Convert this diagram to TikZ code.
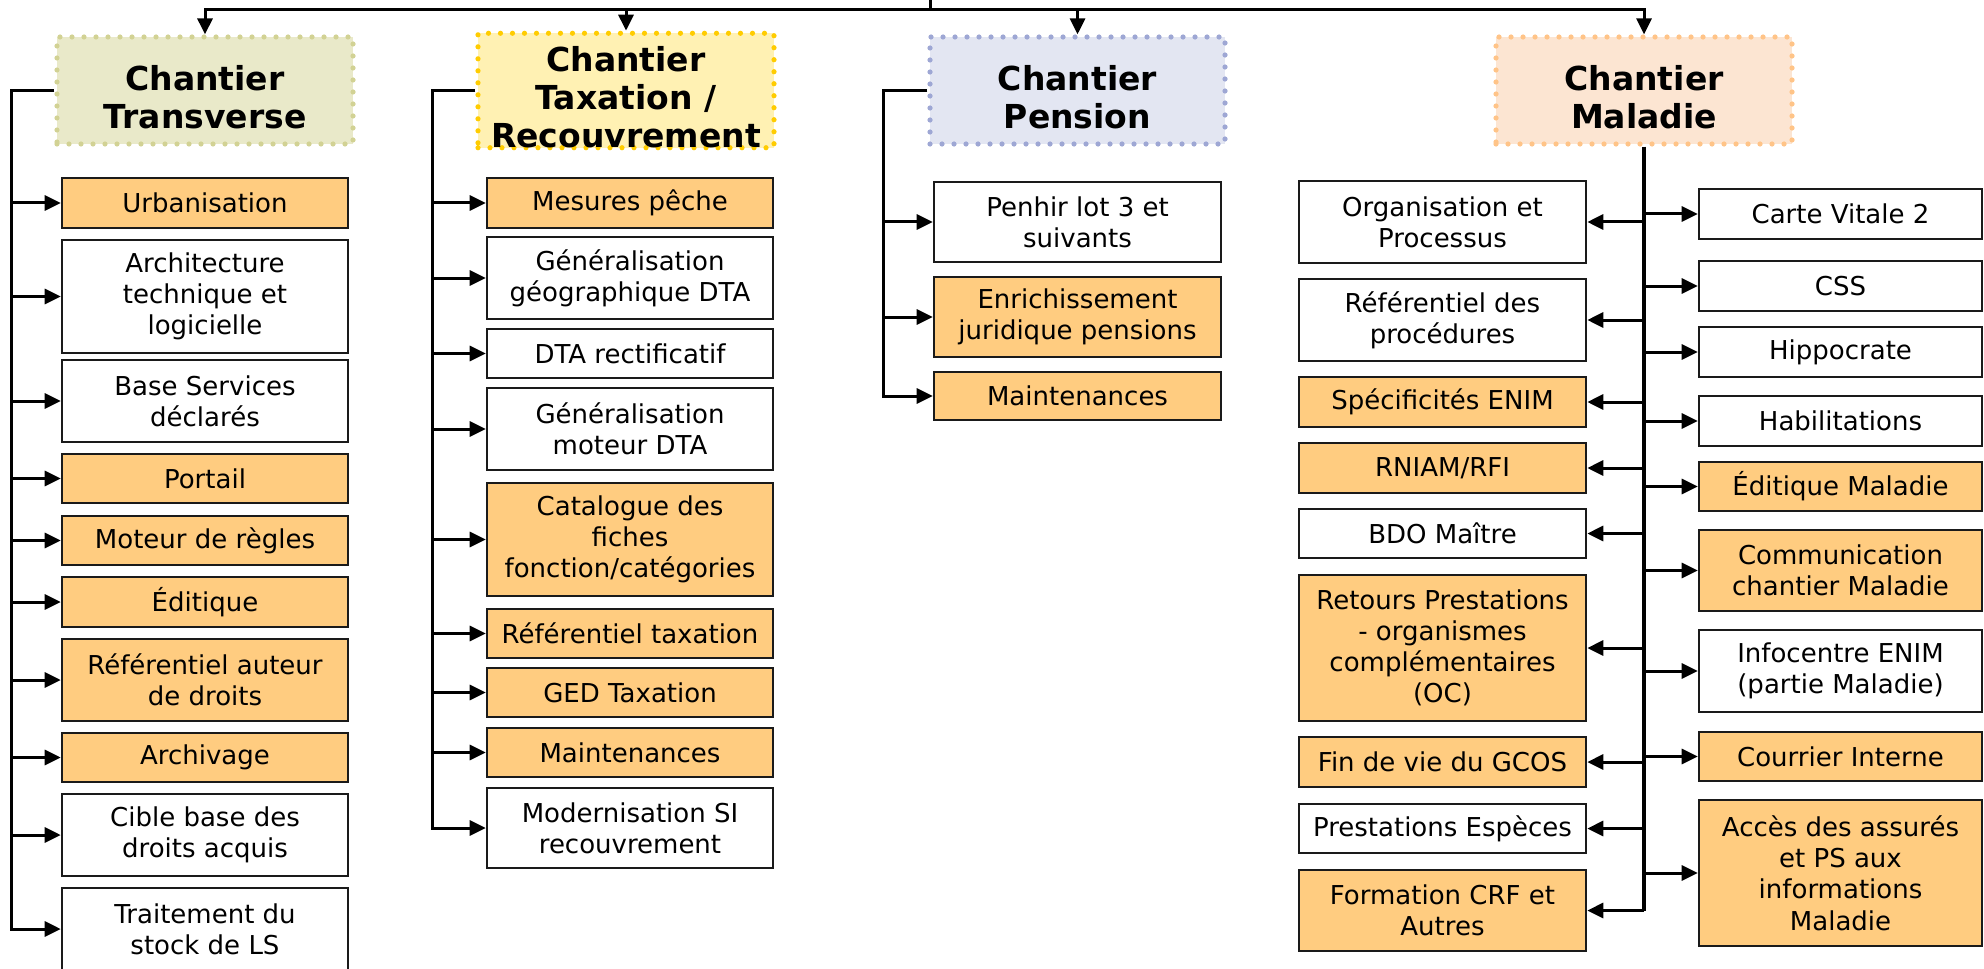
\documentclass[tikz,border=0pt]{standalone}
\usepackage{fontspec}
\setmainfont{DejaVu Sans}
\usetikzlibrary{arrows.meta}
\definecolor{orng}{HTML}{FFCC80}
\definecolor{trfill}{HTML}{E9E9C9}
\definecolor{trdot}{HTML}{D2D294}
\definecolor{txfill}{HTML}{FFF1B3}
\definecolor{txdot}{HTML}{FFCC00}
\definecolor{pefill}{HTML}{E3E6F2}
\definecolor{pedot}{HTML}{9EA7D4}
\definecolor{mafill}{HTML}{FCE5D2}
\definecolor{madot}{HTML}{FFC488}
\definecolor{bord}{HTML}{1A1A1A}
\newcommand{\hdrfont}{\fontsize{16.5pt}{19pt}\selectfont\bfseries}
\newcommand{\boxfont}{\fontsize{13pt}{15.6pt}\selectfont}
\newcommand{\bx}[7]{\node[box,fill=#6,minimum width={(#4-#2)*0.5pt},minimum height={(#5-#3)*0.5pt}] (#1) at ({(#2+#4)/2},{(#3+#5)/2}) {#7};}
\newcommand{\hd}[6]{\node[hdr,fill=#4,draw=#5,minimum width={(#3-#2)*0.5pt},minimum height={(144-37)*0.5pt}] (#1) at ({(#2+#3)/2},90.5) {\rule{0pt}{19pt}#6};}
\begin{document}
\begin{tikzpicture}[x=0.5pt,y=-0.5pt,
  box/.style={draw=bord,line width=1.3pt,inner sep=0pt,align=center,font=\boxfont},
  hdr/.style={line width=2.6pt,dash pattern=on 0pt off 6pt,line cap=round,inner sep=0pt,align=center,font=\hdrfont},
  ln/.style={line width=1.5pt},
  trunk/.style={line width=2pt},
  arr/.style={line width=1.5pt,-{Triangle[length=8pt,width=7.5pt]}}]
\useasboundingbox (0,0) rectangle (1984,968);

% headers
\hd{trH}{57}{353}{trfill}{trdot}{Chantier\\Transverse}
\hd{txH}{478}{774}{txfill}{txdot}{Chantier\\Taxation /\\Recouvrement}
\hd{peH}{930}{1225}{pefill}{pedot}{Chantier\\Pension}
\hd{maH}{1496}{1792}{mafill}{madot}{Chantier\\Maladie}

% Transverse
\bx{t1}{62}{178}{348}{228}{orng}{Urbanisation}
\bx{t2}{62}{240}{348}{353}{white}{Architecture\\technique et\\logicielle}
\bx{t3}{62}{360}{348}{442}{white}{Base Services\\déclarés}
\bx{t4}{62}{454}{348}{503}{orng}{Portail}
\bx{t5}{62}{516}{348}{565}{orng}{Moteur de règles}
\bx{t6}{62}{577}{348}{627}{orng}{Éditique}
\bx{t7}{62}{639}{348}{721}{orng}{Référentiel auteur\\de droits}
\bx{t8}{62}{733}{348}{782}{orng}{Archivage}
\bx{t9}{62}{794}{348}{876}{white}{Cible base des\\droits acquis}
\bx{t10}{62}{888}{348}{970}{white}{Traitement du\\stock de LS}

% Taxation
\bx{x1}{487}{178}{773}{228}{orng}{Mesures pêche}
\bx{x2}{487}{237}{773}{319}{white}{Généralisation\\géographique DTA}
\bx{x3}{487}{329}{773}{378}{white}{DTA rectificatif}
\bx{x4}{487}{388}{773}{470}{white}{Généralisation\\moteur DTA}
\bx{x5}{487}{483}{773}{596}{orng}{Catalogue des\\fiches\\fonction/catégories}
\bx{x6}{487}{609}{773}{658}{orng}{Référentiel taxation}
\bx{x7}{487}{668}{773}{717}{orng}{GED Taxation}
\bx{x8}{487}{728}{773}{777}{orng}{Maintenances}
\bx{x9}{487}{788}{773}{868}{white}{Modernisation SI\\recouvrement}

% Pension
\bx{p1}{934}{182}{1221}{262}{white}{Penhir lot 3 et\\suivants}
\bx{p2}{934}{277}{1221}{357}{orng}{Enrichissement\\juridique pensions}
\bx{p3}{934}{372}{1221}{420}{orng}{Maintenances}

% Maladie left
\bx{l1}{1299}{181}{1586}{263}{white}{Organisation et\\Processus}
\bx{l2}{1299}{279}{1586}{361}{white}{Référentiel des\\procédures}
\bx{l3}{1299}{377}{1586}{427}{orng}{Spécificités ENIM}
\bx{l4}{1299}{443}{1586}{493}{orng}{RNIAM/RFI}
\bx{l5}{1299}{509}{1586}{558}{white}{BDO Maître}
\bx{l6}{1299}{575}{1586}{721}{orng}{Retours Prestations\\- organismes\\complémentaires\\(OC)}
\bx{l7}{1299}{737}{1586}{787}{orng}{Fin de vie du GCOS}
\bx{l8}{1299}{804}{1586}{853}{white}{Prestations Espèces}
\bx{l9}{1299}{870}{1586}{951}{orng}{Formation CRF et\\Autres}

% Maladie right
\bx{r1}{1699}{189}{1982}{239}{white}{Carte Vitale 2}
\bx{r2}{1699}{261}{1982}{311}{white}{CSS}
\bx{r3}{1699}{327}{1982}{377}{white}{Hippocrate}
\bx{r4}{1699}{396}{1982}{446}{white}{Habilitations}
\bx{r5}{1699}{462}{1982}{511}{orng}{Éditique Maladie}
\bx{r6}{1699}{530}{1982}{611}{orng}{Communication\\chantier Maladie}
\bx{r7}{1699}{630}{1982}{712}{white}{Infocentre ENIM\\(partie Maladie)}
\bx{r8}{1699}{732}{1982}{781}{orng}{Courrier Interne}
\bx{r9}{1699}{800}{1982}{946}{orng}{Accès des assurés\\et PS aux\\informations\\Maladie}

% top bus
\coordinate (root) at (930,-3);
\coordinate (bus) at (930,10);
\draw[ln] (root) -- (bus);
\foreach \h in {trH,txH,peH,maH} \draw[arr] (bus) -| (\h.north);

% Transverse branch
\coordinate (trL) at (11,90.5);
\draw[arr] (trH.west) -- (trL) |- (t10.west);
\foreach \c in {t1,t2,t3,t4,t5,t6,t7,t8,t9} \draw[arr] (trL |- \c.west) -- (\c.west);

% Taxation branch
\coordinate (txL) at (432,90.5);
\draw[arr] (txH.west) -- (txL) |- (x9.west);
\foreach \c in {x1,x2,x3,x4,x5,x6,x7,x8} \draw[arr] (txL |- \c.west) -- (\c.west);

% Pension branch
\coordinate (peL) at (883,90.5);
\draw[arr] (peH.west) -- (peL) |- (p3.west);
\foreach \c in {p1,p2} \draw[arr] (peL |- \c.west) -- (\c.west);

% Maladie trunk
\coordinate (maB) at (maH.south |- l9.east);
\draw[trunk] (maH.south) -- (maB);
\draw[arr] (maB) -- (l9.east);
\foreach \c in {l1,l2,l3,l4,l5,l6,l7,l8} \draw[arr] (maH.south |- \c.east) -- (\c.east);
\foreach \c in {r1,r2,r3,r4,r5,r6,r7,r8,r9} \draw[arr] (maH.south |- \c.west) -- (\c.west);
\end{tikzpicture}
\end{document}
